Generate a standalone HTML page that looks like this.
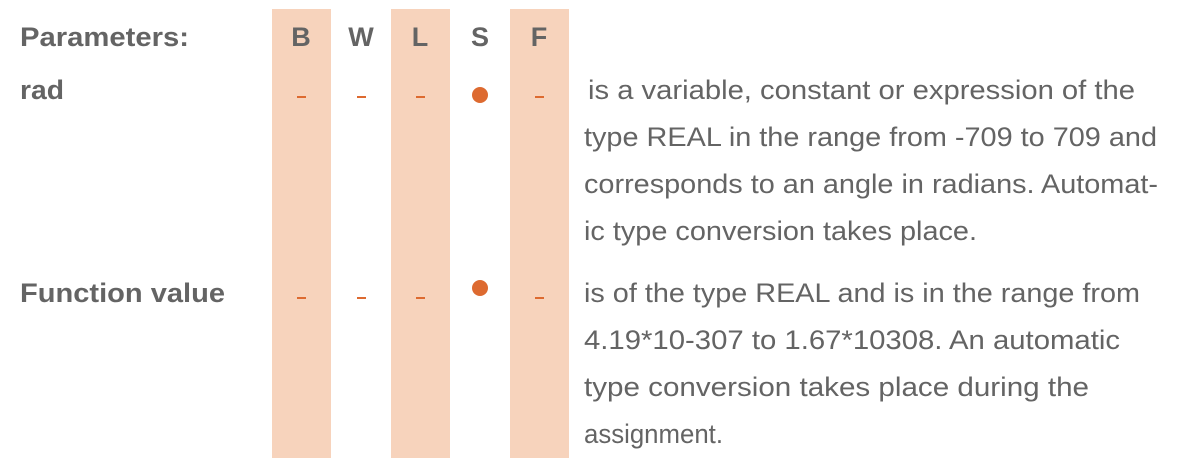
<!DOCTYPE html>
<html><head><meta charset="utf-8"><style>
html,body{margin:0;padding:0;background:#fff;}
svg{display:block;}
text{font-family:"Liberation Sans",sans-serif;fill:#646464;font-size:27px;}
.b{font-weight:bold;}
</style></head><body>
<svg width="1187" height="472" viewBox="0 0 1187 472">
<rect x="272" y="9" width="59" height="449" fill="#f7d3bc"/>
<rect x="391" y="9" width="59" height="449" fill="#f7d3bc"/>
<rect x="510" y="9" width="59" height="449" fill="#f7d3bc"/>
<text class="b" x="20" y="46" textLength="169" lengthAdjust="spacingAndGlyphs">Parameters:</text>
<text class="b" x="301" y="46" text-anchor="middle">B</text>
<text class="b" x="361" y="46" text-anchor="middle">W</text>
<text class="b" x="420" y="46" text-anchor="middle">L</text>
<text class="b" x="480" y="46" text-anchor="middle">S</text>
<text class="b" x="539" y="46" text-anchor="middle">F</text>
<text class="b" x="20" y="99" textLength="44" lengthAdjust="spacingAndGlyphs">rad</text>
<text class="b" x="20" y="302" textLength="205" lengthAdjust="spacingAndGlyphs">Function value</text>
<g fill="#dd6a30">
<rect x="297" y="96" width="9" height="2"/><rect x="357" y="96" width="9" height="2"/><rect x="416" y="96" width="9" height="2"/><circle cx="480" cy="95" r="8"/><rect x="535" y="96" width="9" height="2"/>
<rect x="297" y="297" width="9" height="2"/><rect x="357" y="297" width="9" height="2"/><rect x="416" y="297" width="9" height="2"/><circle cx="480" cy="288" r="8"/><rect x="535" y="297" width="9" height="2"/>
</g>
<text x="588" y="99" textLength="547" lengthAdjust="spacingAndGlyphs">is a variable, constant or expression of the</text>
<text x="584" y="146" textLength="573" lengthAdjust="spacingAndGlyphs">type REAL in the range from -709 to 709 and</text>
<text x="584" y="193" textLength="574" lengthAdjust="spacingAndGlyphs">corresponds to an angle in radians. Automat-</text>
<text x="584" y="240" textLength="393" lengthAdjust="spacingAndGlyphs">ic type conversion takes place.</text>
<text x="584" y="302" textLength="556" lengthAdjust="spacingAndGlyphs">is of the type REAL and is in the range from</text>
<text x="584" y="349" textLength="536" lengthAdjust="spacingAndGlyphs">4.19*10-307 to 1.67*10308. An automatic</text>
<text x="584" y="396" textLength="505" lengthAdjust="spacingAndGlyphs">type conversion takes place during the</text>
<text x="584" y="443" textLength="139" lengthAdjust="spacingAndGlyphs">assignment.</text>
</svg>
</body></html>
